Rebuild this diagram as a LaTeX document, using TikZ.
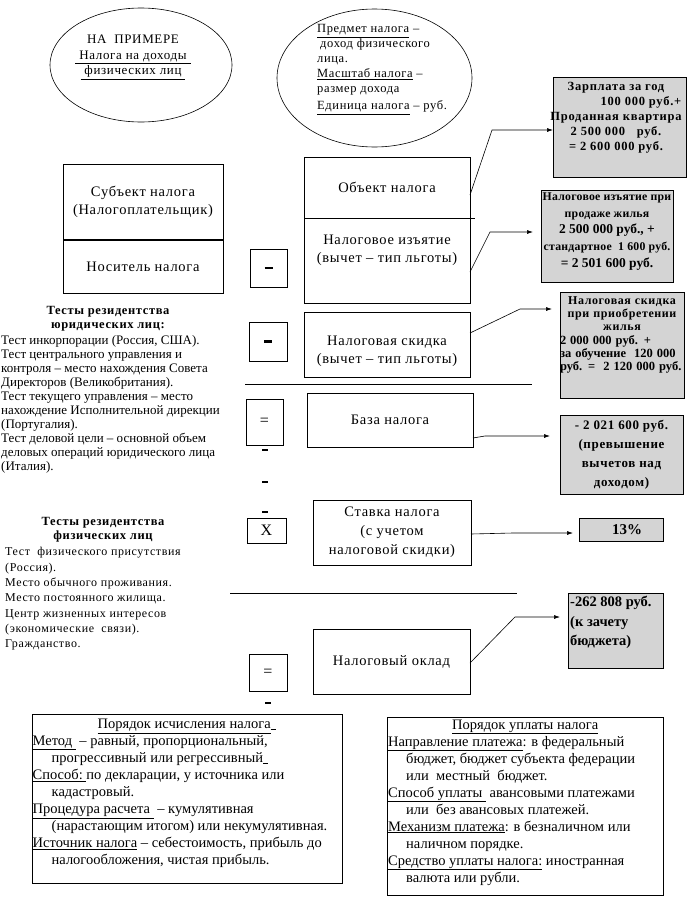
\documentclass[tikz,border=0pt]{standalone}
\usepackage{fontspec}
\setmainfont{Liberation Serif}
\newfontfamily\spaced[LetterSpace=5]{Liberation Serif}
\newfontfamily\wide[LetterSpace=6]{Liberation Serif}
\newfontfamily\narrow[LetterSpace=2]{Liberation Serif}
\newcommand\plainbold{\normalfont\bfseries\fontsize{13.5}{16}\selectfont}
\newcommand\boldbar{\rule[-2pt]{5pt}{1.6pt}}
\usetikzlibrary{shapes.geometric,arrows.meta}

\tikzset{
  box/.style={draw, line width=0.8pt, inner sep=0pt, outer sep=0pt, align=center,
    font=\spaced\fontsize{14.5}{18}\selectfont},
  wh/.style 2 args={minimum width=#1, minimum height=#2},
  greybox/.style={box, fill=black!17},
  oval/.style={draw, ellipse, line width=0.6pt, inner sep=0pt},
  boxtext/.style={inner sep=0pt, align=center, font=\spaced\fontsize{14.5}{18}\selectfont},
  numtext/.style={inner sep=0pt, align=center, font=\spaced\bfseries\fontsize{12.5}{15}\selectfont},
  headtext/.style={inner sep=0pt, align=center, font=\spaced\bfseries\fontsize{12.5}{14}\selectfont},
  smalltext/.style={inner sep=0pt, align=left, anchor=west, font=\fontsize{13}{14}\selectfont},
  listtext/.style={inner sep=0pt, align=left, anchor=west, font=\fontsize{14.5}{17}\selectfont},
  signtext/.style={font=\fontsize{16}{16}\selectfont},
  link/.style={-{Latex[length=6pt,width=4pt]}, line width=0.6pt},
  dashmark/.style={line width=2pt},
}

\begin{document}
\begin{tikzpicture}[x=1pt, y=-1pt]
  \useasboundingbox (0,0) rectangle (693,908);

  % Ovals at the top
  \node[oval, wh={182}{114}] (sample) at (141,65) {};
  \node[boxtext, font=\spaced\fontsize{13}{15.5}\selectfont] (sampletext) at (133,57.3)
    {НА\ \ ПРИМЕРЕ\\\underline{\ Налога на доходы\ }\\\underline{\ физических лиц\ }};
  \node[oval, wh={195}{138}] (elements) at (374.5,78) {};
  \node[boxtext, align=left, anchor=west, font=\spaced\fontsize{12.5}{15}\selectfont] (elementstext) at (317,69.5)
    {\underline{Предмет налога} –\\\hspace*{3pt}доход физического\\лица.\\\underline{Масштаб налога} –\\размер дохода\\[2pt]\underline{Единица налога} – руб.};

  % Subject of the tax
  \node[box, wh={160}{76}] (subject) at (143,202) {Субъект налога\\(Налогоплательщик)};
  \node[box, wh={160}{53}] (bearer) at (143,266.5) {Носитель налога};
  \draw[line width=2pt] (subject.south west) -- (subject.south east);

  % Object, levy and discount
  \node[box, wh={166}{61}] (object) at (387,187.5) {Объект налога};
  \node[box, wh={166}{85}] (levy) at (387,260.5) {};
  \node[boxtext] (levytext) at ([yshift=10pt]levy.center) {Налоговое изъятие\\(вычет – тип льготы)};
  \draw[line width=0.8pt] (object.south east) -- ++(5,0);
  \node[box, wh={37}{38}] (minusA) at (268.5,268) {\rule{8pt}{2.6pt}};
  \node[box, wh={38}{39}] (minusB) at (268,341.5) {\rule{8pt}{2.6pt}};
  \node[box, wh={166}{65}] (discount) at (387,344.5) {};
  \node[boxtext] (discounttext) at ([yshift=-7pt]discount.center) {Налоговая скидка\\(вычет – тип льготы)};

  % Base, rate and the tax itself
  \draw[line width=0.8pt] (245,384) -- (532,384);
  \node[box, wh={37}{46}, signtext] (equalA) at (264.5,422) {=};
  \node[box, wh={166}{54}] (base) at (390,420) {База налога};
  \foreach \y in {450,482,512}
    \draw[dashmark] (262,\y) -- (268,\y);
  \node[box, wh={39}{25}, signtext] (times) at (266.5,530.5) {X};
  \node[box, wh={158}{65}, font=\spaced\fontsize{14.5}{19}\selectfont] (rate) at (392,532.5)
    {Ставка налога\\(с учетом\\налоговой скидки)};
  \draw[line width=0.8pt] (230,593) -- (517,593);
  \node[box, wh={38}{37}, signtext] (equalB) at (268,672.5) {=};
  \node[box, wh={157}{65}] (duty) at (391.5,661.5) {Налоговый оклад};
  \draw[dashmark] (265,703) -- (271,703);

  % Numbers of the example
  \node[greybox, wh={133}{100}] (wage) at (619.5,127) {};
  \node[numtext, font=\wide\bfseries\fontsize{12.5}{15}\selectfont] (wagetext) at (616,118)
    {Зарплата за год\\\hspace*{50pt}100 000 руб.+\\Проданная квартира\\2 500 000\ \ \ руб.\\= 2 600 000 руб.};
  \node[greybox, wh={132}{92}] (levyval) at (607,236) {};
  \node[numtext, font=\narrow\bfseries\fontsize{11.8}{16.7}\selectfont] (levyvaltext) at ([yshift=4.5pt]levyval.center)
    {Налоговое изъятие при\\продаже жилья\\{\plainbold 2 500 000 руб., +}\\стандартное\ \ 1 600 руб.\\{\plainbold = 2 501 600 руб.}};
  \node[greybox, wh={124}{106}] (discval) at (622,345) {};
  \node[numtext, font=\spaced\bfseries\fontsize{12}{13.3}\selectfont, text width=124pt] (discvaltext) at ([yshift=10pt]discval.center)
    {Налоговая скидка\\при приобретении\\жилья\\\makebox[124pt][l]{\plainbold\fontsize{12.5}{13}\selectfont 2 000 000 руб. +}\\\makebox[124pt][l]{\plainbold\fontsize{12.5}{13}\selectfont за обучение\ \ 120 000}\\\makebox[124pt][l]{\plainbold\fontsize{12.5}{13}\selectfont руб. =\ \ 2 120 000 руб.}};
  \node[greybox, wh={123}{79}, font=\spaced\bfseries\fontsize{13}{19}\selectfont] (baseval) at (621.5,454.5)
    {- 2 021 600 руб.\\(превышение\\вычетов над\\доходом)};
  \node[greybox, wh={84}{23}, font=\bfseries\fontsize{15}{15}\selectfont] (rateval) at (621,529.5) {\hspace*{12pt}13\%};
  \node[greybox, wh={95}{75}] (dutyval) at (615.5,630.5) {};
  \node[inner sep=0pt, align=left, anchor=west, font=\bfseries\fontsize{14.5}{19.5}\selectfont] (dutyvaltext) at (570,622.7)
    {-262 808 руб.\\(к зачету\\бюджета)};

  % Links to the numbers
  \coordinate (kinkA) at (492,130);
  \draw[link] (object.east |- 0,195) -- (kinkA) -- (wage.west |- kinkA);
  \coordinate (kinkB) at (490,232);
  \draw[link, shorten >=8pt] (levy.east |- 0,272) -- (kinkB) -- (levyval.west |- kinkB);
  \coordinate (kinkC) at (520,309);
  \draw[link, shorten >=8pt] (discount.east |- 0,333) -- (kinkC) -- (discval.west |- kinkC);
  \coordinate (kinkD) at (485,436);
  \draw[link, shorten >=10pt] (base.east |- 0,438) -- (kinkD) -- (baseval.west |- kinkD);
  \coordinate (kinkE) at (513,533);
  \draw[link, shorten >=6pt] (rate.east |- 0,534) -- (kinkE) -- (rateval.west |- kinkE);
  \coordinate (kinkF) at (515,617);
  \draw[link, shorten >=8pt] (duty.east |- 0,663) -- (kinkF) -- (dutyval.west |- kinkF);

  % Residence tests
  \node[headtext] (legalhead) at (108,319) {Тесты резидентства\\юридических лиц:};
  \node[smalltext] (legaltests) at (1,404)
    {Тест инкорпорации (Россия, США).\\Тест центрального управления и\\контроля – место нахождения Совета\\Директоров (Великобритания).\\Тест текущего управления – место\\нахождение Исполнительной дирекции\\(Португалия).\\Тест деловой цели – основной объем\\деловых операций юридического лица\\(Италия).};
  \node[headtext] (personhead) at (103,530) {Тесты резидентства\\физических лиц};
  \node[smalltext, font=\spaced\fontsize{12}{15.3}\selectfont] (persontests) at (5,599)
    {Тест\ \ физического присутствия\\(Россия).\\Место обычного проживания.\\Место постоянного жилища.\\Центр жизненных интересов\\(экономические\ \ связи).\\Гражданство.};

  % Order of calculation and payment
  \node[box, wh={310}{169}] (calc) at (187,798.5) {};
  \node[listtext] (calctext) at (32.5,793)
    {\makebox[308pt][c]{\underline{Порядок исчисления налога}\boldbar}\\
     \underline{Метод\ } – равный, пропорциональный,\\
     \hspace*{19pt}прогрессивный или регрессивный\boldbar\\
     \underline{Способ:\ }по декларации, у источника или\\
     \hspace*{19pt}кадастровый.\\
     \underline{Процедура расчета\ } – кумулятивная\\
     \hspace*{19pt}(нарастающим итогом) или некумулятивная.\\
     \underline{Источник налога} – себестоимость, прибыль до\\
     \hspace*{19pt}налогообложения, чистая прибыль.};
  \node[box, wh={276}{178}] (pay) at (525,806) {};
  \node[listtext] (paytext) at (388,802.4)
    {\makebox[274pt][c]{\underline{Порядок уплаты налога}}\\
     \underline{Направление платежа}: в федеральный\\
     \hspace*{18pt}бюджет, бюджет субъекта федерации\\
     \hspace*{18pt}или\ \ местный\ \ бюджет.\\
     \underline{Способ уплаты\ } авансовыми платежами\\
     \hspace*{18pt}или\ \ без авансовых платежей.\\
     \underline{Механизм платежа}: в безналичном или\\
     \hspace*{18pt}наличном порядке.\\
     \underline{Средство уплаты налога:} иностранная\\
     \hspace*{18pt}валюта или рубли.};
\end{tikzpicture}
\end{document}
